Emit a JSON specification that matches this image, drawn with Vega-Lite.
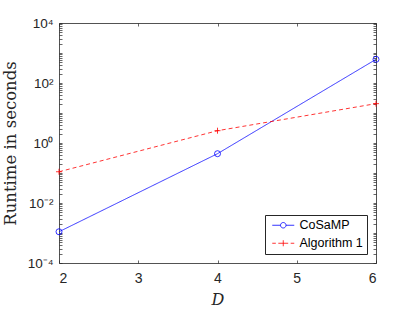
{
  "$schema": "https://vega.github.io/schema/vega-lite/v6.json",
  "width": 317,
  "height": 240,
  "autosize": "none",
  "padding": {"left": 59, "top": 23, "right": 39, "bottom": 49},
  "background": "white",
  "config": {
    "view": {"stroke": null},
    "axis": {"grid": false, "domainColor": "#262626", "tickColor": "#262626", "labelColor": "#262626", "labelFont": "Liberation Sans", "labelFontSize": 13.5, "domainWidth": 0.8, "tickWidth": 0.7}
  },
  "data": {"values": [
    {"D": 2, "runtime": 0.0011, "method": "CoSaMP"},
    {"D": 4, "runtime": 0.44, "method": "CoSaMP"},
    {"D": 6, "runtime": 615, "method": "CoSaMP"},
    {"D": 2, "runtime": 0.11, "method": "Algorithm 1"},
    {"D": 4, "runtime": 2.57, "method": "Algorithm 1"},
    {"D": 6, "runtime": 20.5, "method": "Algorithm 1"}
  ]},
  "resolve": {
    "scale": {"color": "independent", "shape": "independent", "strokeDash": "independent"},
    "axis": {"x": "independent", "y": "independent"}
  },
  "layer": [
    {
      "mark": {"type": "line", "strokeWidth": 0.8},
      "encoding": {
        "x": {"field": "D", "type": "quantitative", "scale": {"domain": [2, 6], "nice": false, "zero": false},
          "axis": {"orient": "bottom", "values": [2, 3, 4, 5, 6], "tickSize": -3, "labelPadding": 11, "labelFontSize": 14, "title": "D", "titleFont": "DejaVu Serif", "titleFontStyle": "italic", "titleFontWeight": "normal", "titleFontSize": 16, "titleColor": "#262626", "titlePadding": 6}},
        "y": {"field": "runtime", "type": "quantitative", "scale": {"type": "log", "domain": [0.0001, 10000], "nice": false},
          "axis": {"orient": "left",
            "values": [0.0001,0.0002,0.0003,0.0004,0.0005,0.0006,0.0007,0.0008,0.0009,0.001,0.002,0.003,0.004,0.005,0.006,0.007,0.008,0.009,0.01,0.02,0.03,0.04,0.05,0.06,0.07,0.08,0.09,0.1,0.2,0.3,0.4,0.5,0.6,0.7,0.8,0.9,1,2,3,4,5,6,7,8,9,10,20,30,40,50,60,70,80,90,100,200,300,400,500,600,700,800,900,1000,2000,3000,4000,5000,6000,7000,8000,9000,10000],
            "tickSize": -3,
            "labelPadding": 9,
            "labelExpr": "abs(log(datum.value)/LN10 - round(log(datum.value)/LN10)) < 1e-6 && round(log(datum.value)/LN10) % 2 == 0 ? '10' + (round(log(datum.value)/LN10) < 0 ? '⁻' : '') + ['⁰','¹','²','³','⁴'][abs(round(log(datum.value)/LN10))] : ''",
            "title": "Runtime in seconds", "titleFont": "DejaVu Serif", "titleFontWeight": "normal", "titleFontSize": 16.5, "titleColor": "#262626", "titlePadding": 9}},
        "color": {"field": "method", "type": "nominal", "scale": {"domain": ["CoSaMP", "Algorithm 1"], "range": ["#0000ff", "#ff0000"]}, "legend": null},
        "strokeDash": {"field": "method", "type": "nominal", "scale": {"domain": ["CoSaMP", "Algorithm 1"], "range": [[1, 0], [4, 3]]}, "legend": null}
      }
    },
    {
      "mark": {"type": "point", "filled": false, "size": 36, "strokeWidth": 0.8, "opacity": 1},
      "encoding": {
        "x": {"field": "D", "type": "quantitative", "axis": null},
        "y": {"field": "runtime", "type": "quantitative", "scale": {"type": "log"}, "axis": null},
        "color": {"field": "method", "type": "nominal", "scale": {"domain": ["CoSaMP", "Algorithm 1"], "range": ["#0000ff", "#ff0000"]}, "legend": null},
        "shape": {"field": "method", "type": "nominal", "scale": {"domain": ["CoSaMP", "Algorithm 1"], "range": ["circle", "M-1,0H1M0,-1V1"]}, "legend": null}
      }
    },
    {
      "transform": [{"filter": "false"}],
      "mark": {"type": "point", "filled": false, "strokeWidth": 0.8, "opacity": 1},
      "encoding": {
        "x": {"field": "D", "type": "quantitative", "axis": {"orient": "top", "values": [2, 3, 4, 5, 6], "tickSize": -3, "labels": false, "title": null}},
        "y": {"field": "runtime", "type": "quantitative", "scale": {"type": "log"},
          "axis": {"orient": "right", "values": [0.0001,0.0002,0.0003,0.0004,0.0005,0.0006,0.0007,0.0008,0.0009,0.001,0.002,0.003,0.004,0.005,0.006,0.007,0.008,0.009,0.01,0.02,0.03,0.04,0.05,0.06,0.07,0.08,0.09,0.1,0.2,0.3,0.4,0.5,0.6,0.7,0.8,0.9,1,2,3,4,5,6,7,8,9,10,20,30,40,50,60,70,80,90,100,200,300,400,500,600,700,800,900,1000,2000,3000,4000,5000,6000,7000,8000,9000,10000], "tickSize": -3, "labels": false, "title": null}},
        "color": {"field": "method", "type": "nominal", "scale": {"domain": ["CoSaMP", "Algorithm 1"], "range": ["#0000ff", "#ff0000"]},
          "legend": {"title": null, "orient": "bottom-right", "offset": 9, "symbolSize": 121, "symbolStrokeWidth": 0.8, "symbolOffset": 8, "labelOffset": 10, "labelFont": "Liberation Sans", "labelFontSize": 12.5, "labelColor": "#000000", "strokeColor": "#262626", "fillColor": "white", "padding": 4, "rowPadding": 5}},
        "shape": {"field": "method", "type": "nominal", "scale": {"domain": ["CoSaMP", "Algorithm 1"], "range": ["M-2,0H-0.5M0.5,0H2M0.5,0A0.5,0.5 0 1,1 -0.5,0A0.5,0.5 0 1,1 0.5,0", "M-2,0H-1.35M-0.9,0H0.9M1.35,0H2M0,-0.55V0.55"]},
          "legend": {"title": null, "orient": "bottom-right", "offset": 9, "symbolSize": 121, "symbolStrokeWidth": 0.8, "symbolOffset": 8, "labelOffset": 10, "labelFont": "Liberation Sans", "labelFontSize": 12.5, "labelColor": "#000000", "strokeColor": "#262626", "fillColor": "white", "padding": 4, "rowPadding": 5}}
      }
    }
  ]
}
